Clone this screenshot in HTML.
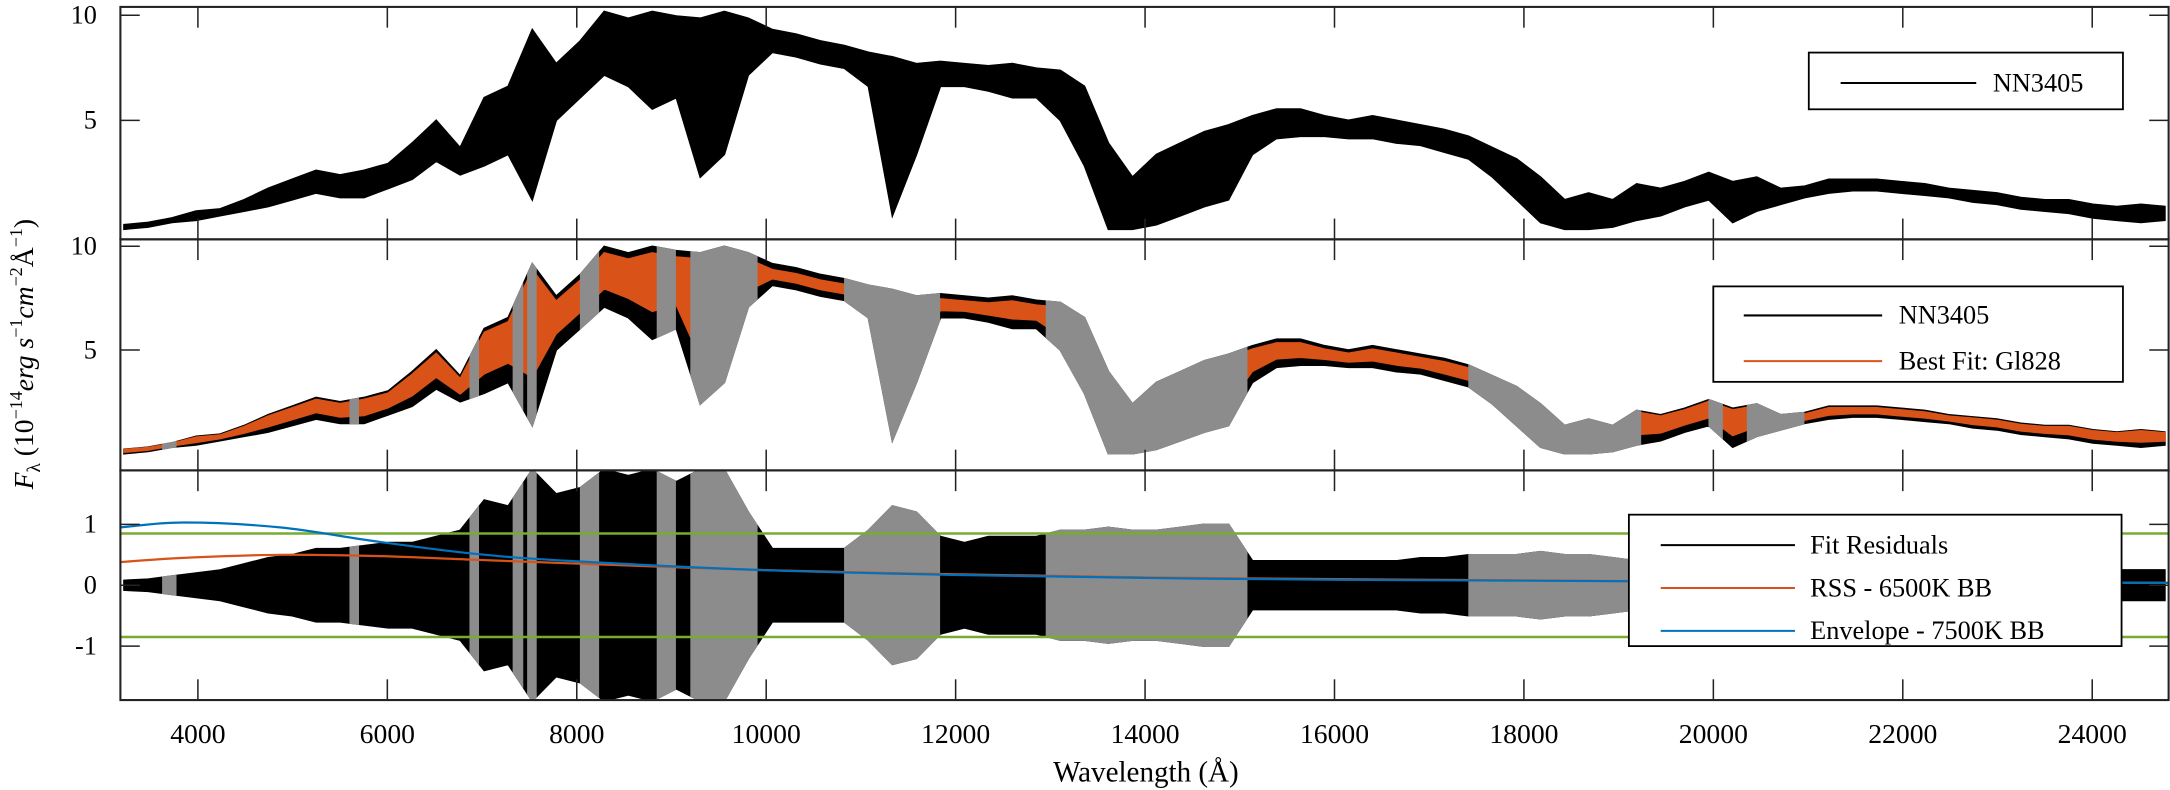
<!DOCTYPE html>
<html><head><meta charset="utf-8"><style>
html,body{margin:0;padding:0;background:#fff;}
svg{display:block;font-family:"Liberation Serif",serif;}
</style></head><body>
<svg id="chart" width="2170" height="790" viewBox="0 0 1568 571" preserveAspectRatio="none" xmlns="http://www.w3.org/2000/svg">
<defs>
<clipPath id="cp1"><rect x="87" y="5" width="1480" height="168"/></clipPath>
<clipPath id="cp2"><rect x="87" y="173" width="1480" height="167"/></clipPath>
<clipPath id="cp3"><rect x="87" y="340" width="1480" height="166"/></clipPath>
<clipPath id="mask2"></clipPath>
<clipPath id="mask3"></clipPath>
</defs>
<g id="p1" clip-path="url(#cp1)"></g>
<g id="p2" clip-path="url(#cp2)"></g>
<g id="p3" clip-path="url(#cp3)"></g>
<g id="axes"></g>

<g>
<rect x="1307" y="38" width="227" height="41" fill="#fff" stroke="#000" stroke-width="1.3"/>
<line x1="1330" y1="60" x2="1428" y2="60" stroke="#000" stroke-width="1.5"/>
<text x="1440" y="66" font-size="19">NN3405</text>
</g>
<g>
<rect x="1238" y="207" width="296" height="69" fill="#fff" stroke="#000" stroke-width="1.3"/>
<line x1="1260" y1="228" x2="1360" y2="228" stroke="#000" stroke-width="1.5"/>
<text x="1372" y="234" font-size="19">NN3405</text>
<line x1="1260" y1="261" x2="1360" y2="261" stroke="#d95319" stroke-width="1.5"/>
<text x="1372" y="267" font-size="19">Best Fit: Gl828</text>
</g>
<g>
<rect x="1177" y="372" width="356" height="95" fill="#fff" stroke="#000" stroke-width="1.3"/>
<line x1="1200" y1="394" x2="1297" y2="394" stroke="#000" stroke-width="1.5"/>
<text x="1308" y="400" font-size="19">Fit Residuals</text>
<line x1="1200" y1="425" x2="1297" y2="425" stroke="#d95319" stroke-width="1.5"/>
<text x="1308" y="431" font-size="19">RSS - 6500K BB</text>
<line x1="1200" y1="456" x2="1297" y2="456" stroke="#0072bd" stroke-width="1.5"/>
<text x="1308" y="462" font-size="19">Envelope - 7500K BB</text>
</g>
<text x="828" y="565" font-size="21" text-anchor="middle">Wavelength (Å)</text>
<text transform="translate(24,256) rotate(-90)" font-size="20" text-anchor="middle"><tspan font-style="italic">F</tspan><tspan font-size="14" dy="5">λ</tspan><tspan dy="-5"> (10</tspan><tspan font-size="13" dy="-8">−14</tspan><tspan dy="8" font-style="italic">erg s</tspan><tspan font-size="13" dy="-8">−1</tspan><tspan dy="8" font-style="italic">cm</tspan><tspan font-size="13" dy="-8">−2</tspan><tspan dy="8">Å</tspan><tspan font-size="13" dy="-8">−1</tspan><tspan dy="8">)</tspan></text>
</svg>
<script>
const wl=[];for(let i=0;i<86;i++)wl.push(3220+i*253.5);
const fluxHi=[0.4,0.5,0.7,1.0,1.1,1.5,2.0,2.4,2.8,2.6,2.8,3.1,4.0,5.0,3.8,6.0,6.5,9.0,7.5,8.5,9.8,9.5,9.8,9.6,9.5,9.8,9.5,9.0,8.8,8.5,8.3,8.0,7.8,7.5,7.6,7.5,7.4,7.5,7.3,7.2,6.5,4.0,2.5,3.5,4.0,4.5,4.8,5.2,5.5,5.5,5.2,5.0,5.2,5.0,4.8,4.6,4.3,3.8,3.3,2.5,1.5,1.8,1.5,2.2,2.0,2.3,2.7,2.3,2.5,2.0,2.1,2.4,2.4,2.4,2.3,2.2,2.0,1.9,1.8,1.6,1.5,1.5,1.3,1.2,1.3,1.2];
const fluxLo=[0.2,0.3,0.5,0.6,0.8,1.0,1.2,1.5,1.8,1.6,1.6,2.0,2.4,3.2,2.6,3.0,3.5,1.5,5.0,6.0,7.0,6.5,5.5,6.0,2.5,3.5,7.0,8.0,7.8,7.5,7.3,6.5,0.8,3.5,6.5,6.5,6.3,6.0,6.0,5.0,3.0,0.2,0.2,0.4,0.8,1.2,1.5,3.5,4.2,4.3,4.3,4.2,4.2,4.0,3.9,3.6,3.3,2.5,1.5,0.5,0.2,0.2,0.3,0.6,0.8,1.2,1.5,0.5,1.0,1.3,1.6,1.8,1.9,1.9,1.8,1.7,1.6,1.4,1.3,1.1,1.0,0.9,0.7,0.6,0.5,0.6];
const resAmp=[0.08,0.1,0.15,0.2,0.25,0.35,0.45,0.5,0.6,0.6,0.65,0.7,0.7,0.8,0.9,1.4,1.3,1.9,1.5,1.6,1.9,1.8,1.9,1.7,1.9,1.9,1.2,0.6,0.6,0.6,0.6,0.9,1.3,1.2,0.8,0.7,0.8,0.8,0.8,0.9,0.9,0.95,0.9,0.9,0.95,1.0,1.0,0.4,0.4,0.4,0.4,0.4,0.4,0.4,0.45,0.45,0.5,0.5,0.5,0.55,0.5,0.5,0.45,0.4,0.3,0.35,0.4,0.4,0.3,0.3,0.25,0.25,0.25,0.25,0.25,0.25,0.25,0.25,0.25,0.25,0.25,0.25,0.25,0.25,0.25,0.25];
const maskStart=[3622,5600,6867,7323,7476,8033,8844,9199,10822,12951,17413,19948,20353];
const maskEnd=[3774,5701,6968,7435,7577,8236,9047,9909,11836,15081,19238,20100,20961];
const bbWl=[3180,3850,4865,5880,6900,7915,9940,11970,14000,16030,20090,24800];
const rssBB=[0.38,0.45,0.50,0.48,0.42,0.36,0.25,0.18,0.13,0.10,0.06,0.04];
const envBB=[0.95,1.03,0.95,0.72,0.52,0.40,0.25,0.17,0.12,0.09,0.06,0.04];
const xTicks=[4000,6000,8000,10000,12000,14000,16000,18000,20000,22000,24000];
const yTicks1=[5,10],yTicks2=[5,10],yTicks3=[-1,0,1];
const greenLevels=[0.85,-0.85];

const NS='http://www.w3.org/2000/svg';
const X=l=>143+(l-4000)*0.06844;
const Y1=v=>169-16.4*v, Y2=v=>331-15.6*v, Y3=v=>423-44*v;
function mk(tag,attrs,parent){const e=document.createElementNS(NS,tag);for(const k in attrs)e.setAttribute(k,attrs[k]);parent.appendChild(e);return e;}
function band(hi,lo,Y){let up=wl.map((w,i)=>X(w).toFixed(1)+','+Y(hi[i]).toFixed(1));let dn=wl.map((w,i)=>X(w).toFixed(1)+','+Y(lo[i]).toFixed(1)).reverse();return up.concat(dn).join(' ');}
const p1=document.getElementById('p1'),p2=document.getElementById('p2'),p3=document.getElementById('p3');
['mask2','mask3'].forEach(id=>{const cp=document.getElementById(id);maskStart.forEach((s,i)=>{mk('rect',{x:X(s),y:0,width:X(maskEnd[i])-X(s),height:790},cp);});});
let e=mk('polygon',{points:band(fluxHi,fluxLo,Y1),fill:'#000',stroke:'#000','stroke-width':1.2},p1);


e=mk('polygon',{points:band(fluxHi,fluxLo,Y2),fill:'#000',stroke:'#000','stroke-width':1.2},p2);


const oHi=fluxHi.map(v=>v*0.97),oLo=fluxLo.map((v,i)=>v+(fluxHi[i]-v)*0.3);
e=mk('polygon',{points:band(oHi,oLo,Y2),fill:'#d95319',stroke:'#d95319','stroke-width':1},p2);


e=mk('polygon',{points:band(fluxHi,fluxLo,Y2),fill:'#8c8c8c',stroke:'#8c8c8c','stroke-width':1.2,'clip-path':'url(#mask2)'},p2);


const rHi=resAmp.slice(),rLo=resAmp.map(v=>-v);
e=mk('polygon',{points:band(rHi,rLo,Y3),fill:'#000',stroke:'#000','stroke-width':1.2},p3);


e=mk('polygon',{points:band(rHi,rLo,Y3),fill:'#8c8c8c',stroke:'#8c8c8c','stroke-width':1.2,'clip-path':'url(#mask3)'},p3);


greenLevels.forEach(g=>{const l=mk('line',{x1:87,x2:1567,y1:Y3(g),y2:Y3(g),stroke:'#77ac30','stroke-width':1.8},p3);

});
function smooth(xs,ys,Y){const pts=xs.map((w,i)=>[X(w),Y(ys[i])]);let d='M'+pts[0][0]+','+pts[0][1];for(let i=0;i<pts.length-1;i++){const p0=pts[i-1]||pts[i],p1_=pts[i],p2_=pts[i+1],p3_=pts[i+2]||p2_;const c1=[p1_[0]+(p2_[0]-p0[0])/6,p1_[1]+(p2_[1]-p0[1])/6],c2=[p2_[0]-(p3_[0]-p1_[0])/6,p2_[1]-(p3_[1]-p1_[1])/6];d+=' C'+c1+' '+c2+' '+p2_;}return d;}
e=mk('path',{d:smooth(bbWl,rssBB,Y3),fill:'none',stroke:'#d95319','stroke-width':1.6},p3);


e=mk('path',{d:smooth(bbWl,envBB,Y3),fill:'none',stroke:'#0072bd','stroke-width':1.6},p3);


const ax=document.getElementById('axes');
[[5,173],[173,340],[340,506]].forEach(([t,b])=>{
 mk('rect',{x:87,y:t,width:1480,height:b-t,fill:'none',stroke:'#222','stroke-width':1.5},ax);
 xTicks.forEach(v=>{mk('line',{x1:X(v),x2:X(v),y1:b,y2:b-15,stroke:'#222','stroke-width':1.1},ax);mk('line',{x1:X(v),x2:X(v),y1:t,y2:t+15,stroke:'#222','stroke-width':1.1},ax);});
});
xTicks.forEach(v=>{const t=mk('text',{x:X(v),y:537,'font-size':20,'text-anchor':'middle'},ax);t.textContent=v;

});
function yt(ticks,Y){ticks.forEach(v=>{mk('line',{x1:87,x2:101,y1:Y(v),y2:Y(v),stroke:'#222','stroke-width':1.1},ax);mk('line',{x1:1567,x2:1553,y1:Y(v),y2:Y(v),stroke:'#222','stroke-width':1.1},ax);const t=mk('text',{x:70,y:Y(v)+6,'font-size':19,'text-anchor':'end'},ax);t.textContent=v;

});}
yt(yTicks1,v=>v===10?11:Y1(v));yt(yTicks2,v=>v===10?178:Y2(v));yt(yTicks3,Y3);
</script>
</body></html>
